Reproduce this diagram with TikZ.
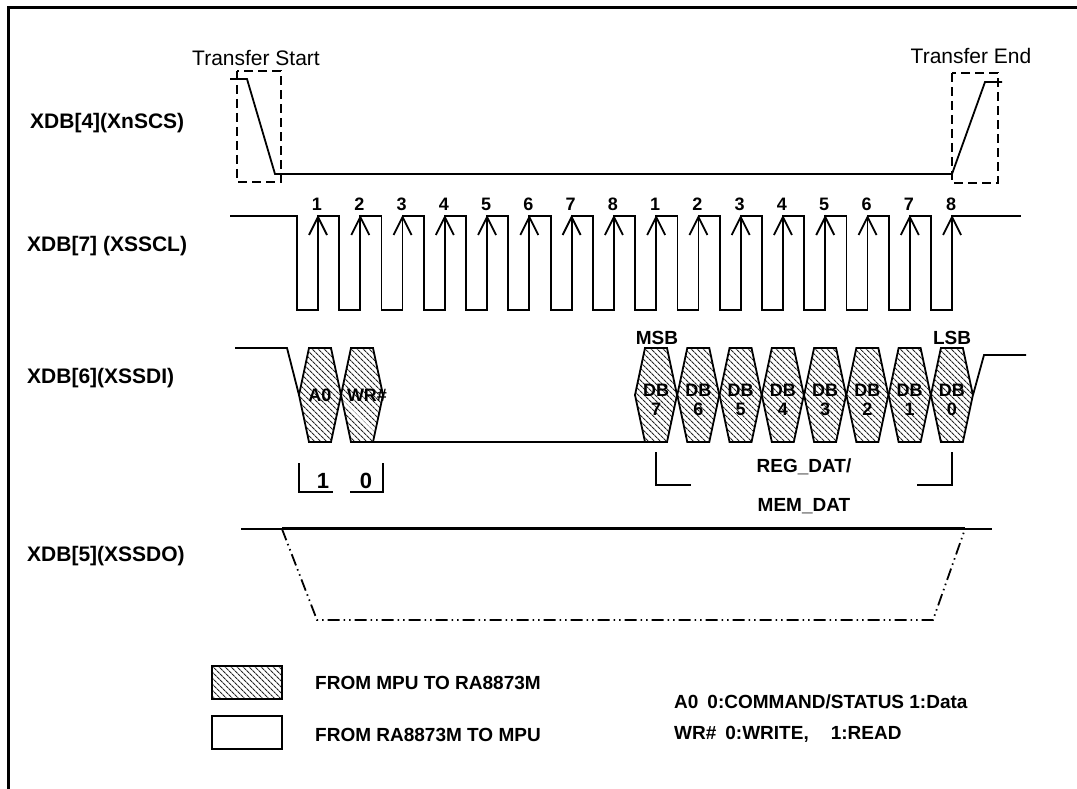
\documentclass[tikz,border=0pt]{standalone}
\usepackage{fontspec}
\setmainfont{Liberation Sans}
\usetikzlibrary{patterns.meta}
\begin{document}
\begin{tikzpicture}[x=1pt,y=-1pt,
  sig/.style={line width=1.8pt, line join=miter},
  hatch/.style={pattern={Lines[angle=-45,distance=4pt,line width=1.1pt]}, pattern color=black!85},
  dashbox/.style={line width=1.8pt, dash pattern=on 9pt off 5pt},
  dashdot/.style={line width=1.8pt, dash pattern=on 12pt off 4pt on 1.5pt off 4pt on 1.5pt off 4pt},
  lbl/.style={font=\bfseries\fontsize{21}{25}\selectfont, anchor=west, inner sep=0pt},
  reg/.style={font=\fontsize{21}{25}\selectfont, inner sep=0pt},
  numf/.style={font=\bfseries\fontsize{18}{22}\selectfont, inner sep=0pt},
  hexf/.style={font=\bfseries\fontsize{18}{20}\selectfont, inner sep=0pt, align=center},
  brkf/.style={font=\bfseries\fontsize{22}{26}\selectfont, inner sep=0pt},
  midf/.style={font=\bfseries\fontsize{19}{23}\selectfont, inner sep=0pt},
  legf/.style={font=\bfseries\fontsize{19}{23}\selectfont, inner sep=0pt, anchor=west}]
\useasboundingbox (0,0) rectangle (1077,789);
% frame
\draw[line width=3pt] (8,789) -- (8,7.5) -- (1077,7.5);

% signal labels
\node[lbl] (l4) at (30,123) {XDB[4](XnSCS)};
\node[lbl] (l7) at (27,246) {XDB[7] (XSSCL)};
\node[lbl] (l6) at (27,378) {XDB[6](XSSDI)};
\node[lbl] (l5) at (27,556) {XDB[5](XSSDO)};

% XnSCS
\node[reg] (ts) at (256,58) {Transfer Start};
\node[reg] (te) at (971,56) {Transfer End};
\draw[dashbox] (237,71) rectangle (281,182);
\draw[dashbox] (952,73) rectangle (998,183);
\draw[sig] (230,79) -- (247,79) -- (275,174) -- (952,174) -- (985,82) -- (1002,82);

% XSSCL
\draw[sig] (230,216) \foreach \k in {0,...,15} { -- ({318+42.27*\k-21},216) -- ({318+42.27*\k-21},310) -- ({318+42.27*\k},310) -- ({318+42.27*\k},216) } -- (1021,216);
\foreach \k in {0,...,15} {
  \pgfmathsetmacro\rx{318+42.27*\k}
  \pgfmathtruncatemacro\num{mod(\k,8)+1}
  \draw[sig] (\rx-9,235) -- (\rx,217) -- (\rx+9,235);
  \node[numf] (n\k) at (\rx-1,204) {\num};
}

% XSSDI
\draw[sig] (235,348) -- (287,348) -- (299,395);
\foreach \c in {320,362} {
  \draw[sig,hatch] (\c-11,348) -- (\c+11,348) -- (\c+21,395) -- (\c+11,442) -- (\c-11,442) -- (\c-21,395) -- cycle;
}
\draw[sig] (373,442) -- (646,442);
\foreach \i in {0,...,7} {
  \pgfmathsetmacro\c{656+42.27*\i}
  \draw[sig,hatch] (\c-11,348) -- (\c+11,348) -- (\c+21,395) -- (\c+11,442) -- (\c-11,442) -- (\c-21,395) -- cycle;
}
\draw[sig] (973,395) -- (984,355) -- (1026,355);
\node[hexf] (a0) at (320,395) {A0};
\node[hexf] (wr) at (367,395) {WR\#};
\foreach \i in {0,...,7} {
  \pgfmathsetmacro\c{656+42.27*\i}
  \pgfmathtruncatemacro\d{7-\i}
  \node[hexf] (db\i) at (\c,400) {DB\\[-1pt]\d};
}
\node[midf] (msb) at (657,338) {MSB};
\node[midf] (lsb) at (952,338) {LSB};

% brackets
\draw[sig] (299,463) -- (299,492) -- (333,492);
\draw[sig] (350,492) -- (383,492) -- (383,463);
\node[brkf] (b1) at (323,481) {1};
\node[brkf] (b0) at (366,481) {0};
\draw[sig] (656,452) -- (656,485) -- (691,485);
\draw[sig] (917,485) -- (952,485) -- (952,452);
\node[midf] (reg) at (804,467) {REG\_DAT/};
\node[midf] (mem) at (804,506) {MEM\_DAT};

% XSSDO
\draw[sig] (241,529) -- (282,529);
\draw[line width=3.2pt] (282,528.5) -- (965,528.5);
\draw[sig] (965,529) -- (992,529);
\draw[dashdot] (282,529) -- (317,620) -- (933,620) -- (965,529);

% legend
\draw[line width=1.5pt, hatch] (212,666) rectangle (282,699);
\draw[line width=2pt] (212,716) rectangle (282,749);
\node[legf] (lg1) at (315,683) {FROM MPU TO RA8873M};
\node[legf] (lg2) at (315,735) {FROM RA8873M TO MPU};
\node[legf] (lg3) at (674,702) {A0\hspace{9pt}0:COMMAND/STATUS 1:Data};
\node[legf] (lg4) at (674,734) {WR\#\hspace{9pt}0:WRITE,\hspace{22pt}1:READ};
\end{tikzpicture}
\end{document}
